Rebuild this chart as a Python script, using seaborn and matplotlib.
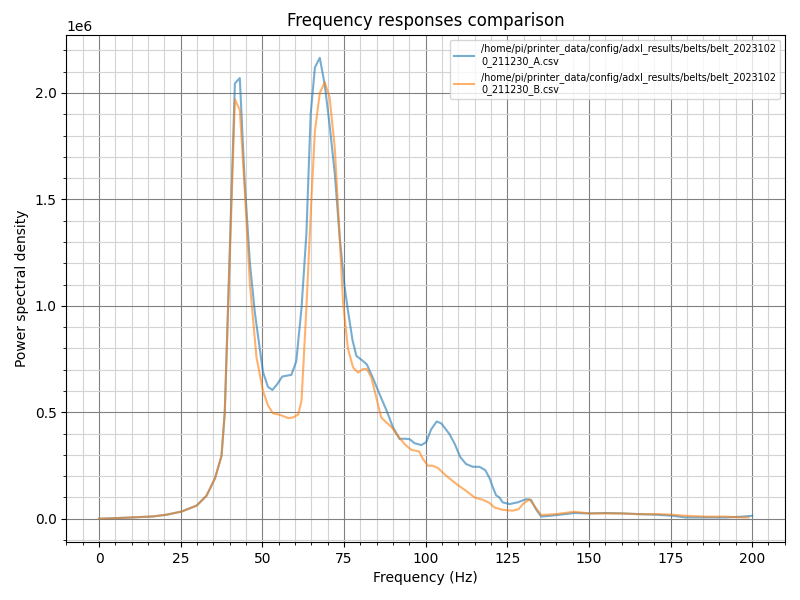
import numpy as np
import pandas as pd
import matplotlib
matplotlib.use("Agg")
import matplotlib.pyplot as plt
import matplotlib.ticker as ticker
import seaborn as sns

# === Data (PSD in units of 1e6) ===
label_a = "/home/pi/printer_data/config/adxl_results/belts/belt_2023102\n0_211230_A.csv"
label_b = "/home/pi/printer_data/config/adxl_results/belts/belt_2023102\n0_211230_B.csv"

freq_a = [0, 8.5, 16.6, 20.7, 25.3, 29.9, 32.9, 35.5, 37.5, 38.5, 41.6, 43.1, 44.6, 46.2,
          47.7, 49.2, 50.2, 51.7, 53.1, 54.6, 56.1, 58.9, 60.4, 62, 63.5, 64.8, 66.1, 67.6,
          69.1, 70.6, 72.2, 73.7, 75.2, 76.2, 77.6, 78.8, 80.5, 82, 83.9, 85.9, 88, 90, 92,
          93.6, 95.1, 96.6, 98.7, 100.2, 101.7, 103.4, 104.8, 107.3, 108.9, 110.6, 112.4,
          114.5, 116.5, 118.3, 119.6, 120.6, 121.6, 122.6, 123.6, 125.7, 128.2, 130.8, 132.3,
          133.8, 135.4, 140, 145.6, 150.2, 155.2, 160.2, 165.4, 170.5, 175.6, 179.7, 185.8,
          191.9, 197, 200]
psd_a = [0, 0.005, 0.011, 0.019, 0.034, 0.062, 0.108, 0.19, 0.295, 0.5, 2.045, 2.07, 1.58, 1.2,
         0.97, 0.8, 0.69, 0.62, 0.605, 0.633, 0.668, 0.676, 0.74, 0.99, 1.34, 1.9, 2.12, 2.165,
         2.04, 1.85, 1.62, 1.32, 1.09, 0.98, 0.84, 0.765, 0.745, 0.725, 0.66, 0.585, 0.51, 0.43,
         0.375, 0.376, 0.374, 0.355, 0.346, 0.36, 0.42, 0.457, 0.448, 0.398, 0.352, 0.29, 0.257,
         0.244, 0.244, 0.228, 0.19, 0.147, 0.11, 0.1, 0.077, 0.069, 0.077, 0.092, 0.088,
         0.045, 0.01, 0.017, 0.027, 0.025, 0.027, 0.025, 0.022, 0.019, 0.014, 0.006, 0.006,
         0.006, 0.01, 0.014]

freq_b = [0, 8.5, 16.6, 20.7, 25.3, 29.9, 32.9, 35.5, 37.5, 38.5, 41.6, 43.1, 44.6, 46.2,
          48.2, 50.2, 51.8, 53.3, 55.4, 57.9, 59.4, 61, 62, 63.5, 65, 66.1, 67.6, 69.1, 70.6,
          72.2, 73.7, 74.7, 76.2, 77.8, 79.3, 80.8, 82, 83.4, 84.9, 86.4, 88, 89.5, 91.5, 93.6,
          95.6, 98, 99.2, 100.7, 102.2, 103.8, 106.3, 109.9, 112.4, 115, 117.5, 119.6, 121.1,
          123.6, 126.7, 128.5, 129.8, 131.8, 132.9, 135.4, 140, 145.6, 150.2, 155.2, 160.2,
          165.4, 170.5, 175.6, 179.7, 185.8, 191.9, 197, 198.9]
psd_b = [0, 0.005, 0.011, 0.019, 0.034, 0.062, 0.108, 0.19, 0.295, 0.5, 1.97, 1.92, 1.55, 1.1,
         0.76, 0.6, 0.53, 0.495, 0.488, 0.473, 0.476, 0.49, 0.555, 0.99, 1.49, 1.82, 2.0, 2.05,
         1.98, 1.74, 1.32, 1.02, 0.80, 0.71, 0.687, 0.703, 0.703, 0.663, 0.57, 0.476, 0.452,
         0.432, 0.39, 0.35, 0.324, 0.316, 0.28, 0.249, 0.249, 0.238, 0.202, 0.158, 0.131, 0.10,
         0.089, 0.074, 0.053, 0.042, 0.038, 0.045, 0.069, 0.092, 0.069, 0.017, 0.022, 0.033,
         0.025, 0.025, 0.025, 0.021, 0.022, 0.019, 0.014, 0.01, 0.01, 0.006, 0.006]

df_a = pd.DataFrame({"freq": freq_a, "psd": np.array(psd_a) * 1e6})
df_b = pd.DataFrame({"freq": freq_b, "psd": np.array(psd_b) * 1e6})

# === Plot ===
fig, ax = plt.subplots(figsize=(8, 6), dpi=100)
sns.lineplot(data=df_a, x="freq", y="psd", ax=ax, color="tab:blue", alpha=0.6, label=label_a)
sns.lineplot(data=df_b, x="freq", y="psd", ax=ax, color="tab:orange", alpha=0.6, label=label_b)

ax.set_title("Frequency responses comparison")
ax.set_xlabel("Frequency (Hz)")
ax.set_ylabel("Power spectral density")

ax.xaxis.set_minor_locator(ticker.AutoMinorLocator())
ax.yaxis.set_minor_locator(ticker.AutoMinorLocator())
ax.ticklabel_format(axis="y", style="scientific", scilimits=(0, 0))
ax.grid(which="major", color="grey")
ax.grid(which="minor", color="lightgrey")
ax.set_axisbelow(True)

ax.legend(loc="best", prop={"size": "x-small"})

fig.subplots_adjust(left=0.083, right=0.981, top=0.942, bottom=0.097)
fig.savefig("out.png")
